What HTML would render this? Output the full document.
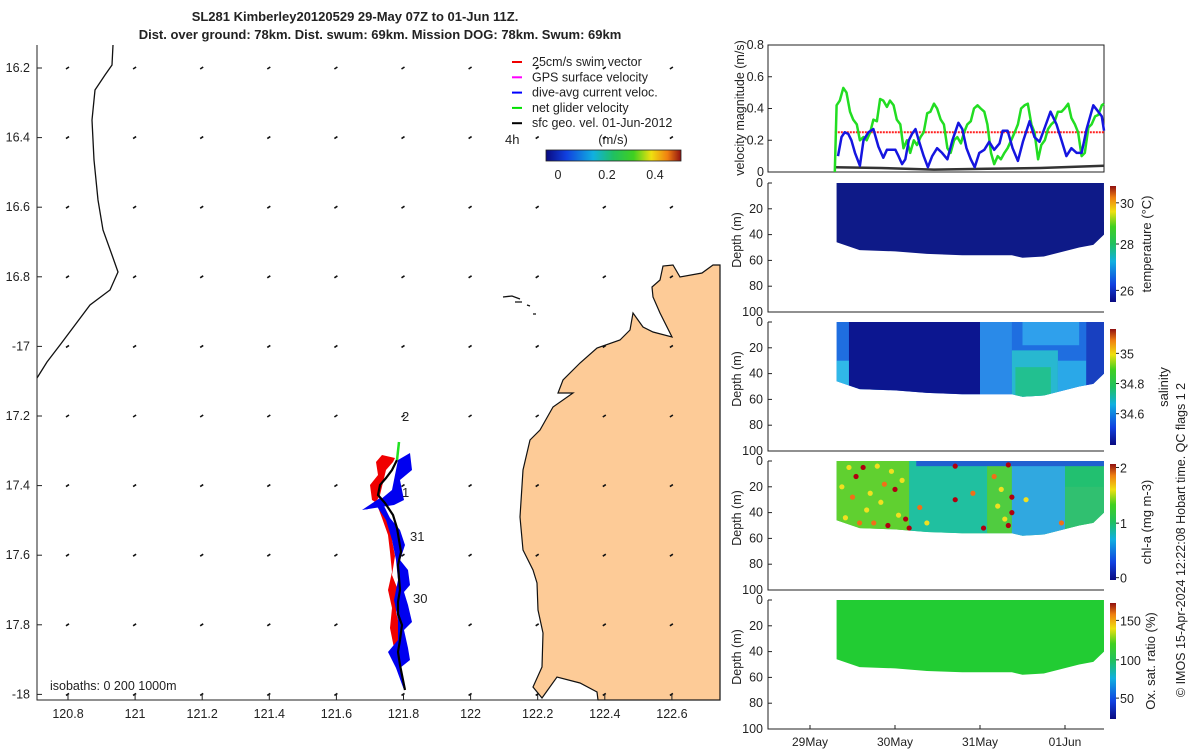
<!DOCTYPE html>
<html><head><meta charset="utf-8">
<style>
body{margin:0;background:#fff;}
svg{display:block;font-family:"Liberation Sans","DejaVu Sans",sans-serif;}
text{fill:#222;}
</style></head>
<body>
<svg id="fig" width="1200" height="750" viewBox="0 0 1200 750" xmlns="http://www.w3.org/2000/svg">
<defs>
<linearGradient id="jetV" x1="0" y1="1" x2="0" y2="0">
<stop offset="0" stop-color="#0a0a80"/><stop offset="0.15" stop-color="#1040e0"/><stop offset="0.35" stop-color="#10b0e0"/><stop offset="0.5" stop-color="#20c060"/><stop offset="0.65" stop-color="#40d020"/><stop offset="0.78" stop-color="#f0e010"/><stop offset="0.9" stop-color="#f08010"/><stop offset="1" stop-color="#901010"/>
</linearGradient>
<linearGradient id="jetH" x1="0" y1="0" x2="1" y2="0">
<stop offset="0" stop-color="#0a0a80"/><stop offset="0.15" stop-color="#1040e0"/><stop offset="0.35" stop-color="#10b0e0"/><stop offset="0.5" stop-color="#20c060"/><stop offset="0.65" stop-color="#40d020"/><stop offset="0.78" stop-color="#f0e010"/><stop offset="0.9" stop-color="#f08010"/><stop offset="1" stop-color="#901010"/>
</linearGradient>
</defs>

<text x="355" y="21" text-anchor="middle" font-size="13" font-weight="bold">SL281 Kimberley20120529 29-May 07Z to 01-Jun 11Z.</text>
<text x="380" y="39" text-anchor="middle" font-size="13" font-weight="bold">Dist. over ground: 78km. Dist. swum: 69km. Mission DOG: 78km. Swum: 69km</text>

<g id="map"></g>
<g id="vel"></g>
<g id="sec"></g>

<text transform="translate(1185,540) rotate(-90)" text-anchor="middle" font-size="12.5">© IMOS 15-Apr-2024 12:22:08 Hobart time. QC flags 1  2</text>
</svg>
<script>
// ---------- velocity data ----------
const greenHours=[7.0,7.5,8.4,9.4,10.3,11.3,12.2,13.2,14.1,15.1,16.0,17.0,17.9,18.9,19.8,20.7,21.7,22.6,23.6,24.5,25.5,26.4,27.4,28.3,29.3,30.2,31.2,32.1,33.1,34.0,35.0,35.9,36.9,37.8,38.8,39.7,40.7,41.6,42.6,43.5,44.4,45.4,46.3,47.3,48.2,49.2,50.1,51.1,52.0,53.0,53.9,54.9,55.8,56.8,57.8,58.7,59.6,60.6,61.5,62.5,63.4,64.4,65.3,66.3,67.2,68.1,69.1,70.0,71.0,71.9,72.9,73.8,74.8,75.7,76.7,77.6,78.6,79.5,80.5,81.4,82.4,83.0];
const greenVals=[0,0.42,0.45,0.53,0.5,0.38,0.33,0.3,0.2,0.22,0.2,0.25,0.33,0.32,0.46,0.45,0.41,0.45,0.42,0.33,0.3,0.15,0.2,0.12,0.2,0.17,0.22,0.25,0.37,0.38,0.43,0.4,0.33,0.3,0.15,0.12,0.2,0.22,0.18,0.25,0.3,0.32,0.4,0.42,0.4,0.38,0.3,0.12,0.05,0.1,0.08,0.12,0.15,0.2,0.25,0.3,0.4,0.42,0.43,0.3,0.25,0.08,0.17,0.2,0.27,0.3,0.32,0.38,0.38,0.4,0.43,0.34,0.3,0.25,0.1,0.12,0.28,0.3,0.35,0.36,0.42,0.43];
const blueHours=[7.9,8.9,9.8,10.8,11.7,12.7,14.1,15.1,16.5,17.9,19.3,20.7,21.7,23.1,24.1,25.0,26.0,26.9,27.9,28.8,29.8,30.7,32.1,33.3,34.5,35.9,37.3,38.8,40.2,41.9,43.0,44.2,45.4,46.5,47.8,49.2,50.6,52.0,53.5,54.4,55.8,57.2,58.7,60.1,62.0,63.4,64.8,66.3,67.9,69.6,71.0,72.4,73.8,75.3,76.7,78.1,80.0,81.4,82.4,83.0];
const blueVals=[0.1,0.22,0.25,0.24,0.2,0.12,0.04,0.2,0.25,0.27,0.16,0.09,0.14,0.14,0.14,0.1,0.05,0.08,0.2,0.24,0.27,0.2,0.1,0.03,0.1,0.15,0.12,0.08,0.2,0.31,0.27,0.15,0.08,0.03,0.12,0.14,0.19,0.14,0.18,0.26,0.26,0.15,0.07,0.19,0.32,0.22,0.19,0.28,0.38,0.3,0.2,0.1,0.15,0.12,0.12,0.27,0.42,0.38,0.35,0.26];
const geoHours=[7,20,35,50,65,83];
const geoVals=[0.03,0.025,0.015,0.02,0.025,0.04];
const swimHours=[7,83];
const swimVals=[0.25,0.25];
const velTicks=[0,0.2,0.4,0.6,0.8];
const dateLabels=["29May","30May","31May","01Jun"];
const dateHours=[0,24,48,72];
// ---------- section envelope ----------
const envHours=[7.5,14,24,33,43,49,57,60,66,76,80,83];
const envDepth=[46,52,53,55,56,56,56,58,57,50,48,40];
const depthTicks=[0,20,40,60,80,100];
const chlSpotHours=[9,10,11,12,13,14,15,16,17,18,19,20,21,22,23,24,25,26,27,28,31,33,41,41,46,49,52,53,54,55,56,56,57,57,61,71];
const chlSpotDepth=[20,44,5,28,12,48,5,38,25,48,4,32,18,50,8,22,42,15,45,52,36,48,4,30,25,52,12,35,22,45,3,50,28,40,30,48];
const chlSpotLevel=[1.5,1.4,1.3,1.6,1.9,1.6,1.9,1.5,1.4,1.7,1.3,1.4,1.6,2,1.5,1.9,1.5,1.4,1.9,1.9,1.6,1.4,2,2,1.6,2,1.6,1.4,1.5,1.4,2,2,2,2,1.4,1.6];

const NS="http://www.w3.org/2000/svg";
function el(tag,attrs,parent){const e=document.createElementNS(NS,tag);for(const k in attrs)e.setAttribute(k,attrs[k]);parent.appendChild(e);return e;}
function hx(h){return 810+h/24*85;}

// ===== MAP =====
const map=document.getElementById('map');
const lonTicks=[120.8,121,121.2,121.4,121.6,121.8,122,122.2,122.4,122.6];
const latTicks=[16.2,16.4,16.6,16.8,17,17.2,17.4,17.6,17.8,18];
const latLabels=["16.2","16.4","16.6","16.8","-17","17.2","17.4","17.6","17.8","-18"];
function lx(l){return 68+(l-120.8)/0.2*67.1;}
function ly(l){return 68+(l-16.2)/0.2*69.6;}
let land=el('polygon',{points:"720,265 713,265 702,273 680,277 673,265 663,266 660,280 652,287 653,297 660,313 672,337 653,332 643,327 633,313 630,330 620,340 597,348 580,363 563,380 558,393 573,393 553,407 540,430 530,440 523,470 520,517 523,550 533,570 537,583 538,610 543,633 542,667 533,687 542,698 557,677 580,683 597,692 598,700 720,700",fill:"#fdcb97",stroke:"#111","stroke-width":"1.2"},map);


let isl=el('path',{d:"M503,297 L512,296 L520,299 M515,302 L522,302 M527,305 L530,306 M533,314 L536,314",stroke:"#111",fill:"none","stroke-width":"1.3"},map);


let iso=el('polyline',{points:"113,45 112,65 105,75 95,90 92,120 94,160 98,200 103,230 112,255 118,272 110,290 90,305 75,325 60,345 47,362 37,378",fill:"none",stroke:"#111","stroke-width":"1.3"},map);


lonTicks.forEach(lo=>latTicks.forEach(la=>{const x=lx(lo),y=ly(la);
 let a=el('line',{x1:x-2,y1:y+1,x2:x+1,y2:y-1,stroke:"#111","stroke-width":"1.6"},map);
 
 }));
let red=el('path',{d:"M395,458 L382,455 L376,462 L378,475 L370,485 L372,500 L385,508 L394,528 L392,540 L395,556 L392,575 L398,590 L396,612 L400,628 L398,650 L402,672 L405,690 L400,672 L394,648 L390,628 L392,608 L388,590 L392,572 L390,552 L388,535 L382,518 L376,502 L380,495 L386,470 L393,462 Z",fill:"#f00000"},map);


let blue=el('path',{d:"M398,460 L410,453 L412,470 L400,480 L404,500 L394,505 L362,510 L380,498 L390,518 L400,530 L405,545 L400,560 L408,570 L410,585 L404,592 L408,605 L412,622 L404,630 L408,648 L410,660 L400,668 L404,690 L396,668 L388,652 L398,640 L398,620 L394,600 L398,580 L396,560 L392,540 L386,520 L376,505 L366,510 L380,500 L392,490 L395,475 Z",fill:"#0000f0"},map);


let trk=el('polyline',{points:"397,460 392,470 386,478 380,485 378,495 385,503 393,515 397,528 399,540 401,552 398,565 399,578 400,590 398,602 398,614 402,625 400,640 398,652 400,665 403,680 405,690",fill:"none",stroke:"#000","stroke-width":"2.2"},map);


let grn=el('line',{x1:397,y1:460,x2:399,y2:442,stroke:"#20e020","stroke-width":"2.5"},map);


[["2",402,421],["1",402,497],["31",410,541],["30",413,603]].forEach(d=>{let t=el('text',{x:d[1],y:d[2],"font-size":"13"},map);t.textContent=d[0];
 
 });
let ax=el('path',{d:"M37,45 L37,700 L720,700",fill:"none",stroke:"#222","stroke-width":"1"},map);


lonTicks.forEach(lo=>{const x=lx(lo);el('line',{x1:x,y1:700,x2:x,y2:695,stroke:"#222"},map);
 let t=el('text',{x:x,y:718,"text-anchor":"middle","font-size":"12.5"},map);t.textContent=String(lo);
 
 });
latTicks.forEach((la,i)=>{const y=ly(la);el('line',{x1:37,y1:y,x2:42,y2:y,stroke:"#222"},map);
 let t=el('text',{x:30,y:y+4,"text-anchor":"end","font-size":"12.5"},map);t.textContent=latLabels[i];
 
 });
let isot=el('text',{x:50,y:690,"font-size":"12.5"},map);isot.textContent="isobaths: 0   200  1000m";


const legItems=[["25cm/s swim vector","#f00000"],["GPS surface velocity","#ff00ff"],["dive-avg current veloc.","#0000ff"],["net glider velocity","#00e000"],["sfc geo. vel. 01-Jun-2012","#000"]];
legItems.forEach((it,i)=>{const y=62+i*15.3;
 let l=el('line',{x1:512,y1:y,x2:522,y2:y,stroke:it[1],"stroke-width":"2"},map);
 
 
 let t=el('text',{x:532,y:y+4,"font-size":"12.5"},map);t.textContent=it[0];
 
 });
let t4=el('text',{x:505,y:144,"font-size":"13"},map);t4.textContent="4h";


let tms=el('text',{x:613,y:144,"text-anchor":"middle","font-size":"13"},map);tms.textContent="(m/s)";


let hcb=el('rect',{x:546,y:150,width:135,height:11,fill:"url(#jetH)",stroke:"#222","stroke-width":"0.8"},map);


[["0",558],["0.2",607],["0.4",655]].forEach(d=>{let t=el('text',{x:d[1],y:179,"text-anchor":"middle","font-size":"12.5"},map);t.textContent=d[0];
 
 });

// ===== VELOCITY =====
const vel=document.getElementById('vel');
const VT=45,VB=172,VL=768,VR=1104;
function vy(v){return VB-v/0.8*(VB-VT);}
let vbox=el('rect',{x:VL,y:VT,width:VR-VL,height:VB-VT,fill:"none",stroke:"#222"},vel);


velTicks.forEach(v=>{let t=el('text',{x:VL-4,y:vy(v)+4,"text-anchor":"end","font-size":"12.5"},vel);t.textContent=String(v);
 
 
 el('line',{x1:VL,y1:vy(v),x2:VL+4,y2:vy(v),stroke:"#222"},vel);});
let vt=el('text',{transform:"translate(744,108) rotate(-90)","text-anchor":"middle","font-size":"12.5"},vel);vt.textContent="velocity magnitude (m/s)";


function pts(hs,vs){return hs.map((h,i)=>hx(h).toFixed(1)+","+vy(vs[i]).toFixed(1)).join(" ");}
let sw=el('polyline',{points:pts(swimHours,swimVals),fill:"none",stroke:"#ff2020","stroke-width":"2","stroke-dasharray":"2 1"},vel);


let gl=el('polyline',{points:pts(geoHours,geoVals),fill:"none",stroke:"#333","stroke-width":"2.5"},vel);


let gr=el('polyline',{points:pts(greenHours,greenVals),fill:"none",stroke:"#22dd22","stroke-width":"2.5","stroke-linejoin":"round"},vel);


let bl=el('polyline',{points:pts(blueHours,blueVals),fill:"none",stroke:"#1515e0","stroke-width":"2.5","stroke-linejoin":"round"},vel);



// ===== SECTIONS =====
const sec=document.getElementById('sec');
const tops=[183,322,461,600];const PH=129;
const cbTops=[186,329,464,603];const CBH=116;
const cbTickLabels=[["30","28","26"],["35","34.8","34.6"],["2","1","0"],["150","100","50"]];
const cbTickFrac=[[0.145,0.5,0.9],[0.21,0.47,0.73],[0.03,0.51,0.98],[0.15,0.49,0.82]];
const cbTitles=["temperature (°C)","salinity","chl-a (mg m-3)","Ox. sat. ratio (%)"];
const cbTitleX=[1151,1168,1151,1155];
const names=["temperature","salinity","chlorophyll","oxygen"];
function envPath(top){
 const dy=d=>top+d/100*PH;
 let p="M"+hx(envHours[0])+","+(top);
 p+=" L"+hx(envHours[envHours.length-1])+","+top;
 for(let i=envHours.length-1;i>=0;i--)p+=" L"+hx(envHours[i]).toFixed(1)+","+dy(envDepth[i]).toFixed(1);
 return p+"Z";}
function rectH(g,top,h0,h1,d0,d1,fill){return el('rect',{x:hx(h0),y:top+d0/100*PH,width:hx(h1)-hx(h0),height:(d1-d0)/100*PH,fill:fill},g);}
tops.forEach((top,k)=>{
 const g=el('g',{},sec);
 
 
 const cid="clip"+k;
 const cp=el('clipPath',{id:cid},g);el('path',{d:envPath(top)},cp);
 const f=el('g',{"clip-path":"url(#"+cid+")"},g);
 if(k===0){rectH(f,top,0,90,0,100,"#0e1a88");}
 if(k===1){
  rectH(f,top,0,90,0,100,"#1f6ee0");
  rectH(f,top,7,14,30,100,"#30b8e8");
  rectH(f,top,14,20,38,100,"#2c9ee8");
  rectH(f,top,11,48,0,100,"#0c1690");
  rectH(f,top,48,57,0,100,"#2a8ae8");
  rectH(f,top,57,70,22,100,"#28b8d0");
  rectH(f,top,58,68,35,100,"#22c090");
  rectH(f,top,70,78,30,100,"#2aa8e8");
  rectH(f,top,78,90,0,100,"#1840c0");
  rectH(f,top,60,76,0,18,"#2fa0ec");
 }
 if(k===2){
  rectH(f,top,0,90,0,100,"#22c070");
  rectH(f,top,7,28,0,100,"#60d030");
  rectH(f,top,28,50,0,100,"#20c0a0");
  rectH(f,top,50,57,0,100,"#50cc40");
  rectH(f,top,57,72,0,100,"#30a8e0");
  rectH(f,top,72,90,20,100,"#30c070");
  rectH(f,top,30,90,0,4,"#2060d0");
  chlSpotHours.forEach((h,i)=>{const v=chlSpotLevel[i];
   const col=v>=1.9?"#b00010":v>=1.6?"#f07018":"#f0e020";
   let c=el('circle',{cx:hx(h),cy:top+chlSpotDepth[i]/100*PH,r:2.6,fill:col},f);
   
   });
 }
 if(k===3){rectH(f,top,0,90,0,100,"#22cc33");}
 el('path',{d:"M768,"+top+" L768,"+(top+PH)+" L1104,"+(top+PH),fill:"none",stroke:"#222"},g);
 depthTicks.forEach(d=>{const y=top+d/100*PH;el('line',{x1:768,y1:y,x2:772,y2:y,stroke:"#222"},g);
  let t=el('text',{x:763,y:y+4,"text-anchor":"end","font-size":"12.5"},g);t.textContent=String(d);
  
  });
 let yt=el('text',{transform:"translate(741,"+(top+57)+") rotate(-90)","text-anchor":"middle","font-size":"12.5"},g);yt.textContent="Depth (m)";
 
 
 let cb=el('rect',{x:1110,y:cbTops[k],width:6,height:CBH,fill:"url(#jetV)"},g);
 
 
 cbTickLabels[k].forEach((lab,i)=>{const y=cbTops[k]+cbTickFrac[k][i]*CBH;
  el('line',{x1:1116,y1:y,x2:1119,y2:y,stroke:"#222"},g);
  let t=el('text',{x:1120,y:y+5,"font-size":"12.5"},g);t.textContent=lab;
  
  });
 let ct=el('text',{transform:"translate("+cbTitleX[k]+","+(cbTops[k]+CBH/2)+") rotate(-90)","text-anchor":"middle","font-size":"13"},g);ct.textContent=cbTitles[k];
 
 
});
dateHours.forEach((h,i)=>{const x=hx(h);el('line',{x1:x,y1:729,x2:x,y2:725,stroke:"#222"},sec);
 let t=el('text',{x:x,y:746,"text-anchor":"middle","font-size":"12"},sec);t.textContent=dateLabels[i];
 
 });
</script>
</body></html>
